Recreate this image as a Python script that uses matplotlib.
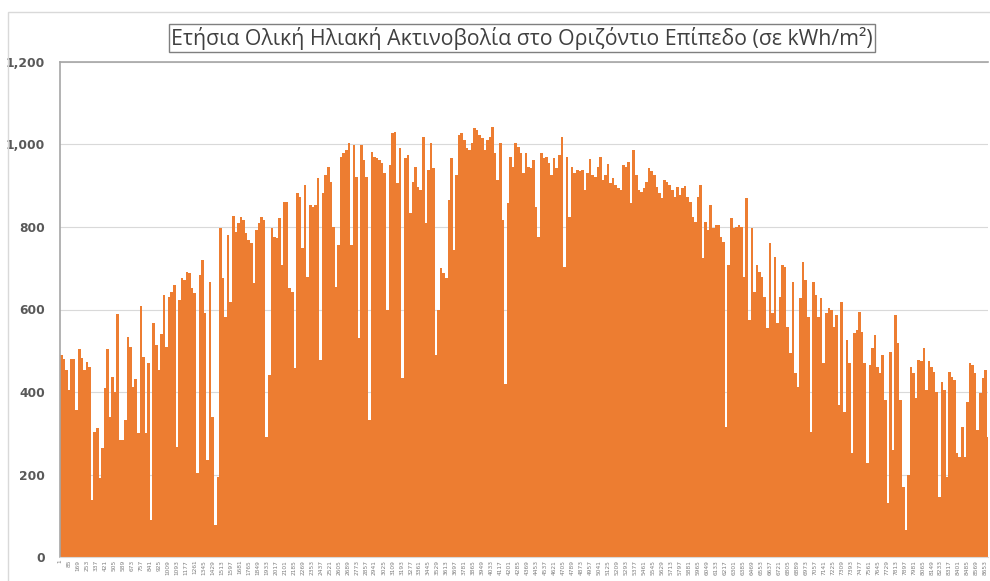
import numpy as np
import matplotlib
matplotlib.use("Agg")
import matplotlib.pyplot as plt
from matplotlib.patches import Rectangle
from matplotlib.ticker import FuncFormatter

# daily peak of hourly horizontal irradiance (Jan..Dec)
jan_feb = [490, 480, 453, 405, 480, 480, 356, 504, 482, 453, 473, 461, 138, 303, 313,
           191, 264, 410, 504, 339, 436, 400, 589, 283, 283, 332, 533, 509, 412, 431,
           300, 608, 485, 300, 470, 90, 567, 514, 453, 541, 635, 509, 630, 642, 659,
           267, 623, 676, 672, 691, 688, 652, 640, 203, 684, 720, 591, 235, 667, 339]
mar_apr = [78, 194, 797, 676, 582, 780, 618, 826, 788, 810, 824, 817, 785, 768, 761,
           664, 793, 810, 824, 817, 291, 441, 797, 776, 773, 822, 708, 861, 861, 652,
           642, 458, 882, 873, 749, 902, 679, 853, 848, 853, 918, 478, 882, 926, 945,
           909, 800, 654, 756, 970, 979, 986, 1003, 756, 999, 921, 531, 999, 962, 921]
may_jun = [332, 982, 970, 967, 962, 955, 931, 599, 950, 1028, 1030, 906, 991, 434, 967,
           974, 834, 909, 945, 897, 890, 1018, 810, 938, 1003, 943, 490, 599, 701, 688,
           676, 865, 967, 744, 926, 1023, 1028, 1011, 991, 986, 1003, 1040, 1035, 1023, 1016,
           986, 1011, 1018, 1042, 979, 914, 1003, 817, 420, 858, 970, 945, 1003, 994, 979]
jul_aug = [931, 979, 945, 943, 962, 848, 776, 979, 967, 970, 955, 926, 967, 943, 974,
           1018, 703, 970, 824, 945, 931, 938, 935, 938, 890, 931, 965, 926, 921, 945,
           970, 914, 926, 952, 906, 918, 902, 894, 890, 950, 945, 957, 858, 986, 926,
           890, 885, 894, 909, 943, 935, 926, 897, 882, 870, 914, 909, 902, 890]
sep_oct = [873, 897, 877, 894, 899, 873, 861, 824, 812, 873, 902, 725, 812, 793, 853,
           797, 805, 805, 776, 764, 315, 708, 822, 797, 800, 805, 800, 679, 870, 574,
           797, 642, 708, 691, 679, 630, 555, 761, 591, 727, 567, 630, 708, 703, 558,
           494, 667, 446, 412, 628, 715, 671, 582, 303, 667, 635, 582, 628, 470, 591]
nov_dec = [603, 599, 558, 587, 368, 618, 352, 526, 470, 252, 543, 550, 594, 545, 470,
           228, 465, 507, 538, 461, 446, 490, 381, 131, 497, 259, 587, 519, 381, 170,
           65, 199, 461, 446, 385, 478, 475, 507, 405, 475, 461, 448, 400, 145, 424,
           405, 194, 448, 436, 429, 252, 242, 315, 242, 376, 470, 465, 446, 308, 397,
           434, 453, 291, 339, 179, 422]

peaks = np.array(jan_feb + mar_apr + may_jun + jul_aug + sep_oct + nov_dec)
hours_per_day = 24
tick_hours = list(range(1, 8761, 84))

orange = "#ED7D31"
grey_txt = "#595959"

fig = plt.figure(figsize=(9.9, 5.81), dpi=100)
fig.patch.set_facecolor("white")

# outer chart frame
fig.patches.append(Rectangle((8 / 990, -0.1), 1.1, (581 - 12) / 581 + 0.1,
                             transform=fig.transFigure, fill=False,
                             edgecolor="#d9d9d9", linewidth=1.0))

# the picture is cropped on the right, so the axes stop at the image edge
ax = fig.add_axes([60 / 990, 24 / 581, 928 / 990, 495 / 581])
starts = np.arange(len(peaks)) * hours_per_day
ax.bar(starts, peaks, width=hours_per_day, align="edge", color=orange,
       linewidth=0, zorder=2)

ax.set_xlim(0, 8676)
ax.set_ylim(0, 1200)
ax.set_yticks(range(0, 1201, 200))
ax.yaxis.set_major_formatter(FuncFormatter(lambda v, p: f"{int(v):,}"))
ax.grid(axis="y", color="#d9d9d9", linewidth=0.8, zorder=0)

shown = [h for h in tick_hours if h < 8676]
ax.set_xticks(shown)
ax.set_xticklabels([str(h) for h in shown], rotation=90, fontsize=4.2,
                   color="#7f7f7f")
ax.tick_params(axis="x", length=0, pad=2)
ax.tick_params(axis="y", length=0, pad=11, labelsize=8.8, labelcolor=grey_txt)
for lab in ax.get_yticklabels():
    lab.set_fontweight("bold")

for side in ["left", "top"]:
    ax.spines[side].set_color("#a6a6a6")
    ax.spines[side].set_linewidth(1.2)
ax.spines["right"].set_visible(False)
ax.spines["bottom"].set_color("#d9d9d9")

fig.text(522 / 990, 1 - 38 / 581,
         "Ετήσια Ολική Ηλιακή Ακτινοβολία στο Οριζόντιο Επίπεδο (σε kWh/m²)",
         ha="center", va="center", fontsize=15.3, color="#404040",
         family=["Open Sans", "DejaVu Sans"],
         bbox=dict(boxstyle="square,pad=0.12", facecolor="white",
                   edgecolor="#7f7f7f", linewidth=1.0))

fig.savefig("out.png", dpi=100)
